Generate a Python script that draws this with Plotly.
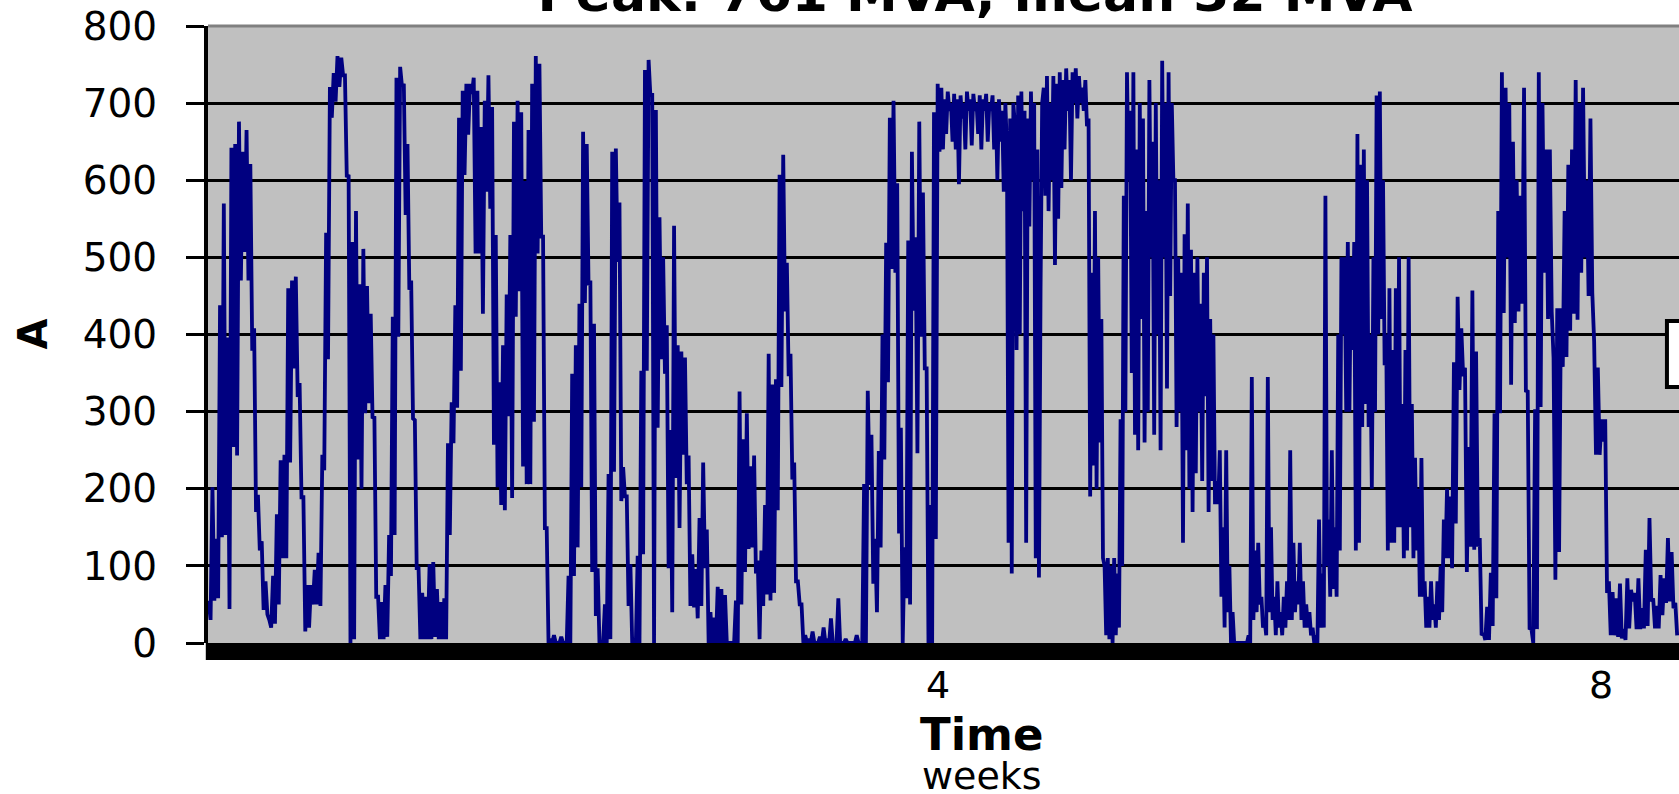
import numpy as np
import plotly.graph_objects as go

# ---- data (A), grouped in time segments ----
# segment edges in weeks on the time axis
SEGMENT_EDGES_WEEKS = [-0.40, 0.40, 1.31, 2.21, 3.11, 4.02, 7.09, 8.47]

seg1 = [55, 30, 202, 55, 135, 58, 438, 137, 570, 140, 396, 44, 642, 254, 647, 243,
        676, 470, 637, 507, 665, 470, 621, 379, 408, 170, 192, 120, 132, 43, 80, 37,
        30, 20, 87, 25, 167, 50, 237, 110, 244, 110, 460, 234, 470, 356, 475, 319,
        337, 189, 189, 15, 75, 20, 75, 50, 95, 50, 117, 48, 244, 224, 532, 368,
        721, 681, 739, 702, 761, 721]

seg2 = [759, 736, 736, 604, 607, 0, 520, 5, 560, 238, 465, 200, 511, 298, 463, 311,
        427, 291, 294, 60, 60, 5, 53, 5, 75, 8, 140, 87, 423, 140, 733, 397,
        747, 722, 725, 555, 647, 458, 470, 291, 289, 97, 97, 5, 65, 5, 60, 5,
        102, 5, 105, 8, 70, 5, 53, 5, 58, 5, 259, 140, 312, 259, 438, 305,
        681, 353, 716, 607, 725, 659, 725, 712, 733, 505, 716, 505, 669, 427, 703, 585,
        736, 563]

seg3 = [695, 257, 529, 202, 338, 179, 386, 172, 452, 294, 529, 188, 676, 423, 703, 456,
        688, 229, 599, 206, 665, 206, 725, 287, 761, 505, 751, 527, 527, 149, 149, 0,
        5, 0, 10, 0, 0, 0, 8, 0, 0, 0, 87, 0, 349, 87, 386, 124,
        440, 202, 663, 441, 647, 464, 470, 92, 414, 35, 97, 0, 0, 0, 50, 0,
        219, 5, 637, 222, 641, 494, 571, 184, 228, 190, 190, 48, 102, 0, 5, 0,
        113, 0]

seg4 = [353, 115, 743, 353, 756, 709, 713, 0, 691, 279, 552, 368, 500, 349, 412, 97,
        276, 40, 541, 214, 386, 149, 378, 244, 370, 206, 243, 48, 115, 46, 96, 32,
        162, 48, 234, 97, 147, 0, 40, 0, 33, 0, 73, 0, 70, 0, 62, 0,
        0, 0, 0, 0, 55, 0, 326, 50, 264, 92, 298, 122, 229, 124, 243, 90,
        107, 5, 120, 48, 179, 63, 375, 55, 335, 65, 342, 172, 607, 332, 633, 430,
        493, 346]

seg5 = [375, 212, 234, 80, 80, 50, 50, 0, 10, 0, 5, 0, 15, 0, 0, 0,
        8, 0, 20, 0, 5, 0, 32, 0, 0, 0, 58, 0, 0, 0, 5, 0,
        0, 0, 0, 0, 10, 0, 0, 0, 206, 0, 327, 205, 270, 77, 135, 40,
        249, 124, 400, 238, 519, 338, 681, 485, 703, 480, 596, 142, 279, 0, 124, 58,
        522, 50, 637, 431, 526, 246, 676, 397, 584, 356, 356, 0, 179, 0, 688, 135,
        725, 637]

seg6 = [720, 640, 705, 660, 715, 690, 700, 650, 712, 640, 705, 595, 710, 680, 700, 640,
        715, 690, 705, 645, 712, 690, 700, 660, 710, 640, 705, 690, 712, 650, 700, 690,
        710, 640, 700, 600, 705, 650, 690, 585, 700, 640, 130, 680, 90, 700, 670, 380,
        710, 400, 715, 560, 690, 130, 680, 540, 715, 600, 700, 110, 640, 85, 460, 700,
        720, 580, 735, 560, 700, 600, 735, 490, 725, 550, 740, 590, 730, 640, 745, 690,
        730, 600, 740, 700, 745, 680, 735, 700, 720, 690, 730, 670, 680, 190, 480, 230,
        560, 200, 500, 260, 420, 110, 100, 10, 110, 5, 100, 0, 110, 10, 90, 20,
        290, 100, 580, 300, 740, 600, 690, 350, 740, 270, 640, 250, 700, 420, 680, 260,
        560, 300, 730, 500, 650, 270, 700, 400, 600, 250, 755, 500, 700, 330, 740, 450,
        700, 600, 600, 280, 500, 300, 480, 130, 530, 250, 570, 200, 510, 170, 480, 220,
        500, 300, 440, 210, 480, 320, 500, 170, 420, 210, 400, 180, 210, 180, 250, 60,
        150, 20, 250, 40, 100, 0, 40, 0, 0, 0, 0, 0, 0, 0, 0, 0,
        10, 0, 345, 30, 120, 40, 130, 50, 60, 20, 30, 10, 345, 40, 150, 30,
        60, 10, 80, 20, 40, 10, 60, 20, 80, 30, 250, 30, 130, 40, 80, 50,
        130, 30, 80, 20, 50, 20, 40, 10, 20, 0, 10, 0, 160, 20, 90, 20,
        580, 100, 160, 60, 250, 70, 150, 60, 400, 120, 500, 400, 500, 300, 520, 300,
        500, 380, 520, 120, 660, 130, 620, 280, 640, 310, 600, 280, 400, 200, 500, 300,
        710, 400, 715, 420, 600, 360, 400, 120, 460, 130, 380, 130, 460, 150, 500, 150,
        310, 110, 380, 120, 500, 150, 310, 110, 240, 120, 200, 60, 240, 60, 80, 20,
        60, 20, 80, 30, 50, 20, 80, 30, 100, 40, 160, 110, 200, 110]

seg7 = [190, 97, 364, 155, 449, 328, 408, 346, 357, 92, 254, 125, 457, 121, 378, 125,
        136, 10, 13, 4, 47, 4, 91, 22, 298, 58, 560, 298, 740, 428, 720, 500,
        700, 335, 650, 415, 600, 430, 580, 440, 720, 327, 326, 19, 18, 0, 303, 18,
        740, 306, 700, 480, 640, 420, 640, 430, 370, 82, 434, 118, 434, 358, 560, 371,
        620, 405, 640, 427, 730, 419, 700, 480, 720, 500, 600, 450, 680, 454, 391, 244,
        357, 244, 290, 261, 290, 65, 80, 10, 66, 10, 58, 8, 77, 6, 18, 4,
        84, 19, 69, 54, 65, 18, 84, 18, 45, 19, 121, 22, 162, 54, 58, 19,
        48, 19, 88, 36, 84, 52, 136, 54, 118, 45, 52, 10]

SEGMENTS = [seg1, seg2, seg3, seg4, seg5, seg6, seg7]

X_TICKS = [4, 8]
X_TICK_TEXT = ["4", "8"]
Y_TICKS = [0, 100, 200, 300, 400, 500, 600, 700, 800]

TITLE = "Peak: 761 MVA, mean 32 MVA"

# ---- build the time series ----
xs, ys = [], []
for i, seg in enumerate(SEGMENTS):
    t = np.linspace(SEGMENT_EDGES_WEEKS[i], SEGMENT_EDGES_WEEKS[i + 1], len(seg), endpoint=False)
    xs.extend(t.tolist())
    ys.extend(seg)

FONT = "DejaVu Sans"

fig = go.Figure()
fig.add_trace(go.Scatter(x=xs, y=ys, mode="lines",
                         line=dict(color="#000080", width=3.8),
                         hoverinfo="skip", showlegend=False))

fig.update_layout(
    width=1679, height=794,
    margin=dict(l=208, r=0, t=26, b=151, pad=0),
    plot_bgcolor="#C0C0C0", paper_bgcolor="white",
    showlegend=False,
    title=dict(text="<b>" + TITLE + "</b>", x=0.5807, xanchor="center",
               xref="container", yref="container", y=0.986, yanchor="bottom",
               font=dict(family=FONT, size=52, color="black")),
    xaxis=dict(range=[-0.404, 8.47], tickvals=X_TICKS, ticktext=X_TICK_TEXT,
               showgrid=False, zeroline=False, showline=False, ticks="",
               ticklabelstandoff=16, automargin=False,
               tickfont=dict(family=FONT, size=38, color="black")),
    yaxis=dict(range=[0, 800], tickvals=Y_TICKS, showgrid=True, gridcolor="black",
               gridwidth=3, zeroline=False, showline=True, linecolor="black",
               linewidth=4, ticks="outside", ticklen=18, tickwidth=3,
               tickcolor="black", ticklabelstandoff=21, automargin=False,
               tickfont=dict(family=FONT, size=39, color="black")),
    shapes=[
        dict(type="rect", xref="paper", yref="paper", x0=-0.0015, x1=1,
             y0=-17 / 617, y1=0, fillcolor="black", line=dict(width=0), layer="above"),
        dict(type="line", xref="paper", yref="paper", x0=0, x1=1, y0=1, y1=1,
             line=dict(color="#808080", width=3), layer="above"),
        dict(type="rect", xref="paper", yref="paper", x0=0.9918, x1=1.05,
             y0=0.415, y1=0.522, fillcolor="white",
             line=dict(color="black", width=4), layer="above"),
    ],
    annotations=[
        dict(text="<b>A</b>", xref="paper", yref="paper", x=-0.1196, y=0.5,
             textangle=-90, showarrow=False, xanchor="center", yanchor="middle",
             font=dict(family=FONT, size=40, color="black")),
        dict(text="<b>Time</b>", xref="paper", yref="paper", x=0.526, y=-0.148,
             showarrow=False, xanchor="center", yanchor="middle",
             font=dict(family=FONT, size=45, color="black")),
        dict(text="weeks", xref="paper", yref="paper", x=0.526, y=-0.216,
             showarrow=False, xanchor="center", yanchor="middle",
             font=dict(family=FONT, size=38, color="black")),
    ],
)

fig.write_html("out.html", config={"displayModeBar": False},
               post_script="document.body.style.margin='0';document.body.style.overflow='hidden';")
